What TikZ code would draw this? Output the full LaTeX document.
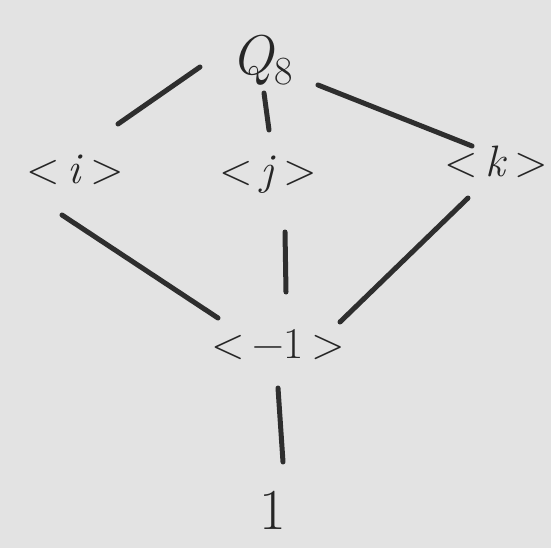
\documentclass[tikz,border=0pt]{standalone}
\usepackage{fontspec}
\begin{document}
\begin{tikzpicture}[x=1pt,y=-1pt,
  lbl/.style={inner sep=0pt,text=black!85,font=\fontsize{44}{44}\selectfont},
  edge/.style={line width=5pt,draw=black!82,line cap=round}]
\fill[black!11] (0,0) rectangle (551,548);
\useasboundingbox (0,0) rectangle (551,548);
\node[lbl,font=\fontsize{56}{56}\selectfont] (Q) at (262,60) {\textit{Q}\raisebox{-10pt}{\fontsize{40}{40}\selectfont 8}};
\node[lbl] (i) at (75,170) {<\,\textit{i}\,>};
\node[lbl] (j) at (268,175) {<\,\textit{j}\,>};
\node[lbl] (k) at (496,162) {<\,\textit{k}\,>};
\node[lbl] (m) at (278,345) {<\,−1\,>};
\node[lbl,font=\fontsize{58}{58}\selectfont] (one) at (273,510) {1};
\draw[edge] ([shift={(-62,7)}]Q.center) -- ([shift={(43,-46)}]i.center);
\draw[edge] ([shift={(2,33)}]Q.center) -- ([shift={(1,-45)}]j.center);
\draw[edge] ([shift={(56,25)}]Q.center) -- ([shift={(-24,-16)}]k.center);
\draw[edge] ([shift={(-13,45)}]i.center) -- ([shift={(-60,-27)}]m.center);
\draw[edge] ([shift={(17,57)}]j.center) -- ([shift={(8,-53)}]m.center);
\draw[edge] ([shift={(-28,36)}]k.center) -- ([shift={(62,-23)}]m.center);
\draw[edge] ([shift={(0,43)}]m.center) -- ([shift={(10,-48)}]one.center);
\end{tikzpicture}
\end{document}
